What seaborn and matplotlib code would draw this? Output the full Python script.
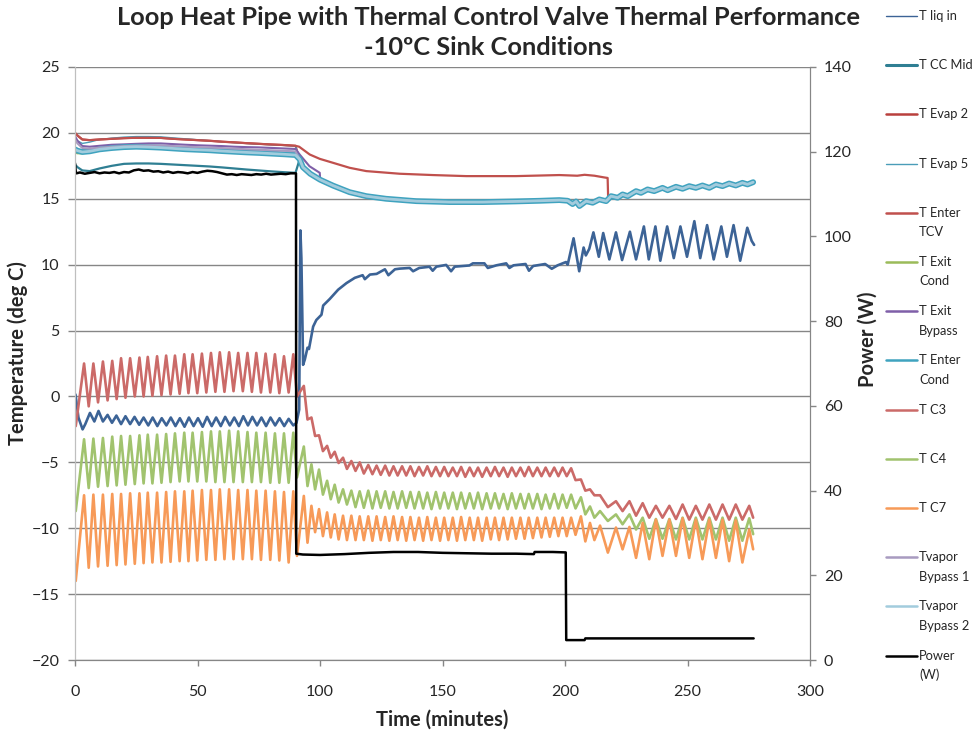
import numpy as np
import seaborn as sns
import matplotlib.pyplot as plt
from matplotlib.lines import Line2D

# condenser thermocouples C3 / C4 / C7: turning points of the oscillation (minutes)
c_time = [0.3, 3.7, 5.6, 7.5, 9.4, 11.4, 13.3, 15.2,
          17.0, 18.8, 20.6, 22.5, 24.4, 26.3, 28.0, 29.7,
          31.6, 33.5, 35.3, 37.2, 39.0, 40.8, 42.7, 44.6,
          46.3, 48.0, 49.9, 51.8, 53.6, 55.5, 57.3, 59.1,
          61.0, 62.9, 64.7, 66.6, 68.5, 70.4, 72.2, 74.0,
          75.9, 77.8, 79.7, 81.6, 83.4, 85.3, 87.2, 89.1,
          90.6, 93.4, 94.9, 96.5, 98.0, 99.6, 101.2, 102.9,
          104.4, 106.0, 107.6, 109.4, 111.0, 112.8, 114.5, 116.2,
          117.9, 119.7, 121.4, 123.1, 124.8, 126.6, 128.3, 130.0, 131.7, 133.5,
          135.2, 136.9, 138.6, 140.4, 142.1, 143.8, 145.5, 147.3, 149.0, 150.7,
          152.4, 154.2, 155.9, 157.6, 159.3, 161.1, 162.8, 164.5, 166.2, 168.0,
          169.7, 171.4, 173.1, 174.9, 176.6, 178.3, 180.0, 181.8, 183.5, 185.2,
          186.9, 188.7, 190.4, 192.1, 193.8, 195.6, 197.3, 199.0, 200.7, 202.5,
          204.3, 206.5, 208.3, 210.2, 212.0, 214.3, 217.5, 220.8, 223.5, 226.3,
          229.0, 231.7, 234.4, 237.1, 239.8, 242.6, 245.3, 248.0, 250.7, 253.4,
          256.1, 258.9, 261.6, 264.3, 267.0, 269.7, 272.4, 275.2, 276.8]

t_c3 = [-2.25, 2.5, -0.75, 2.5, -0.45, 2.65, -0.3, 2.7,
        -0.2, 2.9, -0.1, 2.9, 0.0, 2.95, 0.0, 3.0,
        0.05, 3.05, 0.1, 3.1, 0.15, 3.1, 0.2, 3.2,
        0.25, 3.2, 0.25, 3.25, 0.3, 3.3, 0.35, 3.35,
        0.35, 3.35, 0.4, 3.3, 0.4, 3.3, 0.35, 3.3,
        0.3, 3.25, 0.3, 3.2, 0.25, 3.05, 0.3, 3.2,
        0.0, 0.8, -1.75, -1.6, -3.0, -2.95, -4.15, -3.75,
        -4.65, -4.2, -5.05, -4.65, -5.5, -4.9, -5.65, -5.0,
        -5.85, -5.2, -5.9, -5.25, -5.95, -5.25, -6.0, -5.3, -6.0, -5.3,
        -6.0, -5.3, -6.05, -5.35, -6.0, -5.3, -6.05, -5.35, -6.05, -5.35,
        -6.05, -5.4, -6.05, -5.35, -6.1, -5.4, -6.05, -5.4, -6.1, -5.4,
        -6.05, -5.35, -6.05, -5.4, -6.1, -5.4, -6.05, -5.4, -6.05, -5.35,
        -6.05, -5.4, -6.05, -5.4, -6.05, -5.4, -6.05, -5.4, -6.05, -5.45,
        -6.35, -6.3, -7.15, -7.05, -7.5, -7.5, -8.4, -7.95, -8.7, -7.95,
        -9.05, -8.1, -9.2, -8.3, -9.2, -8.3, -9.3, -8.2, -9.35, -8.3,
        -9.35, -8.2, -9.35, -8.2, -9.35, -8.2, -9.35, -8.3, -9.2]

t_c4 = [-8.7, -3.25, -6.95, -3.2, -6.85, -3.15, -6.8, -3.05,
        -6.75, -3.0, -6.7, -3.0, -6.65, -2.95, -6.6, -2.9,
        -6.6, -2.9, -6.55, -2.85, -6.5, -2.8, -6.45, -2.75,
        -6.45, -2.75, -6.45, -2.7, -6.45, -2.65, -6.5, -2.65,
        -6.5, -2.6, -6.5, -2.65, -6.5, -2.7, -6.5, -2.75,
        -6.5, -2.75, -6.55, -2.8, -6.55, -2.8, -6.55, -2.75,
        -6.15, -3.8, -6.8, -5.15, -7.05, -5.55, -7.45, -6.4,
        -7.8, -6.7, -8.05, -7.05, -8.2, -7.15, -8.4, -7.2,
        -8.45, -7.15, -8.5, -7.2, -8.45, -7.2, -8.5, -7.25, -8.5, -7.2,
        -8.45, -7.25, -8.5, -7.25, -8.5, -7.3, -8.55, -7.25, -8.5, -7.3,
        -8.5, -7.3, -8.55, -7.3, -8.5, -7.35, -8.5, -7.3, -8.55, -7.35,
        -8.5, -7.35, -8.5, -7.4, -8.55, -7.35, -8.5, -7.4, -8.5, -7.4,
        -8.5, -7.4, -8.55, -7.45, -8.5, -7.4, -8.5, -7.45, -8.45, -7.45,
        -8.5, -7.65, -8.95, -8.35, -9.2, -8.7, -9.45, -8.95, -9.7, -8.95,
        -10.1, -9.2, -10.8, -9.3, -10.8, -9.3, -10.85, -9.2, -10.85, -9.2,
        -10.85, -9.2, -10.85, -9.2, -10.95, -9.2, -10.95, -9.25, -10.45]

t_c7 = [-14.0, -7.5, -13.0, -7.45, -12.9, -7.45, -12.85, -7.4,
        -12.8, -7.4, -12.75, -7.35, -12.7, -7.35, -12.65, -7.3,
        -12.6, -7.3, -12.6, -7.25, -12.55, -7.2, -12.5, -7.2,
        -12.5, -7.15, -12.45, -7.1, -12.4, -7.1, -12.4, -7.05,
        -12.35, -7.05, -12.35, -7.1, -12.35, -7.1, -12.35, -7.15,
        -12.4, -7.15, -12.4, -7.2, -12.45, -7.25, -12.6, -7.2,
        -12.1, -7.55, -11.1, -8.3, -10.3, -8.55, -10.6, -8.8,
        -10.7, -8.95, -10.85, -9.05, -10.9, -9.05, -10.9, -9.1,
        -10.9, -9.1, -10.95, -9.1, -10.9, -9.15, -10.95, -9.1, -10.9, -9.15,
        -10.95, -9.15, -10.9, -9.2, -10.95, -9.15, -10.9, -9.2, -10.95, -9.2,
        -10.9, -9.2, -10.95, -9.15, -10.9, -9.2, -10.9, -9.2, -10.95, -9.2,
        -10.85, -9.2, -10.9, -9.2, -10.85, -9.2, -10.8, -9.2, -10.8, -9.2,
        -10.75, -9.2, -10.7, -9.2, -10.65, -9.2, -10.6, -9.2, -10.6, -9.2,
        -10.5, -9.1, -11.0, -9.6, -10.9, -9.8, -11.85, -9.95, -11.6, -9.9,
        -12.25, -9.6, -12.35, -9.35, -12.1, -9.35, -12.1, -9.25, -12.25, -9.35,
        -12.35, -9.35, -12.25, -9.35, -12.5, -9.4, -12.6, -10.1, -11.6]

# liquid inlet
liq_time = [0.2, 1.4, 3.1, 4.2,
            6.1, 7.9, 9.6, 11.4, 13.3, 15.1, 16.9, 18.8, 20.6, 22.5,
            24.3, 26.2, 28.0, 29.9, 31.7, 33.6, 35.4, 37.3, 39.1, 41.0,
            42.8, 44.7, 46.5, 48.4, 50.2, 52.1, 53.9, 55.8, 57.6, 59.5,
            61.3, 63.2, 65.0, 66.9, 68.7, 70.6, 72.4, 74.3, 76.1, 78.0,
            79.8, 81.7, 83.5, 85.4, 87.2, 89.1, 90.4,
            91.5, 92.0, 92.4, 93.1, 93.8, 94.9, 95.5, 97.2, 98.5, 100.6,
            101.3, 104.0, 107.4, 110.8, 114.2, 117.4, 118.3, 120.4, 123.1, 126.5,
            127.9, 130.6, 132.6, 136.6, 138.0, 140.5, 144.7, 146.0, 147.5, 151.5,
            153.5, 155.0, 161.0, 162.4, 167.1, 168.5, 172.0, 176.0, 177.3, 179.0,
            183.9, 185.3, 187.0, 191.9, 194.6, 197.0, 200.4, 201.1, 203.5, 205.8,
            207.6, 208.5, 209.9, 211.6, 213.8, 215.6, 218.1, 220.8, 223.3, 226.5,
            229.0, 232.2, 234.2, 236.9, 238.9, 241.7, 244.4, 247.1, 249.8, 252.8,
            255.2, 258.0, 260.7, 263.8, 266.1, 268.8, 271.5, 274.4, 276.2, 277.2]
t_liq_in = [0.15, -1.6, -2.5, -2.1,
            -1.25, -1.9, -1.1, -1.9, -1.4, -2.0, -1.45, -2.1, -1.5, -2.1,
            -1.55, -2.15, -1.6, -2.2, -1.6, -2.25, -1.65, -2.2, -1.6, -2.25,
            -1.65, -2.3, -1.6, -2.25, -1.65, -2.3, -1.55, -2.25, -1.6, -2.25,
            -1.55, -2.2, -1.6, -2.25, -1.5, -2.2, -1.55, -2.2, -1.6, -2.25,
            -1.6, -2.2, -1.65, -2.25, -1.7, -2.2, -2.0,
            -1.0, 12.6, 10.5, 2.4, 2.8, 3.7, 3.6, 5.3, 5.8, 6.2,
            6.9, 7.4, 8.1, 8.6, 9.0, 9.2, 8.9, 9.25, 9.3, 9.65,
            9.2, 9.65, 9.7, 9.75, 9.5, 9.75, 9.84, 9.54, 9.85, 9.98,
            9.5, 9.85, 9.94, 10.1, 10.1, 9.75, 9.95, 10.1, 9.75, 9.95,
            10.05, 9.54, 9.9, 10.05, 9.69, 9.95, 10.2, 10.0, 12.0, 9.5,
            11.3, 10.7, 11.2, 12.45, 10.6, 12.4, 10.4, 12.45, 10.35, 12.5,
            10.4, 12.9, 10.4, 12.9, 10.3, 12.9, 10.5, 12.9, 10.6, 13.3,
            10.5, 13.0, 10.4, 12.9, 10.6, 13.0, 10.3, 12.8, 11.8, 11.5]

# evaporator / vapour side, before the power step
up_time = [0, 1, 3, 6, 10, 15, 20, 25, 30, 35, 40, 45, 50, 55, 60, 65, 70, 75, 80, 85, 90]
tcv_pre = [20.0, 19.8, 19.5, 19.45, 19.5, 19.55, 19.6, 19.63, 19.63, 19.62, 19.55,
           19.5, 19.45, 19.4, 19.33, 19.28, 19.22, 19.17, 19.12, 19.08, 19.02]
evap5_pre = [19.6, 19.4, 19.2, 19.3, 19.5, 19.6, 19.68, 19.72, 19.72, 19.7, 19.62,
             19.55, 19.48, 19.4, 19.33, 19.26, 19.2, 19.15, 19.1, 19.05, 19.0]
ccmid_pre = [17.6, 17.4, 17.15, 17.1, 17.3, 17.5, 17.65, 17.68, 17.68, 17.65, 17.6,
             17.55, 17.5, 17.45, 17.38, 17.3, 17.22, 17.15, 17.08, 17.02, 16.97]
bypass_pre = [19.75, 19.4, 19.0, 18.95, 19.02, 19.1, 19.13, 19.17, 19.2, 19.2, 19.15,
              19.1, 19.06, 19.03, 19.0, 18.95, 18.92, 18.9, 18.86, 18.82, 18.78]
vap1_pre = [19.5, 19.2, 18.85, 18.8, 18.88, 18.95, 19.0, 19.03, 19.05, 19.05, 19.0,
            18.96, 18.92, 18.88, 18.85, 18.8, 18.76, 18.72, 18.68, 18.64, 18.6]
entcond_pre = [18.75, 18.65, 18.55, 18.6, 18.75, 18.85, 18.92, 18.95, 18.92, 18.88, 18.82,
               18.76, 18.72, 18.68, 18.62, 18.57, 18.52, 18.48, 18.43, 18.38, 18.32]
exitcond_pre = [18.5, 18.45, 18.45, 18.55, 18.7, 18.8, 18.87, 18.9, 18.88, 18.84, 18.78,
                18.72, 18.68, 18.64, 18.58, 18.53, 18.48, 18.44, 18.39, 18.34, 18.28]

# common band after the power step
grp_time = [91.7, 93.0, 96.0, 100.0, 105.3, 112.1, 118.9, 127.0, 139.3, 152.9,
            166.5, 180.0, 190.0, 197.7, 201.1, 203.1, 204.5, 205.9, 208.6, 211.3,
            214.0, 216.8, 218.8, 221.5, 223.5, 225.6, 229.0, 231.0, 233.7, 236.4,
            239.8, 241.9, 245.3, 248.0, 250.7, 253.4, 256.1, 258.9, 261.6, 264.3,
            267.0, 269.7, 272.4, 274.5, 276.8]
grp_val = [18.0, 17.4, 16.9, 16.45, 16.0, 15.5, 15.2, 15.0, 14.82, 14.75,
           14.75, 14.8, 14.85, 14.9, 14.85, 14.6, 14.8, 14.45, 14.82, 14.7,
           14.95, 14.82, 15.2, 15.08, 15.33, 15.2, 15.58, 15.45, 15.71, 15.58,
           15.83, 15.65, 15.91, 15.76, 15.96, 15.83, 16.01, 15.83, 16.09, 15.96,
           16.16, 16.01, 16.21, 16.09, 16.26]

tcv_tail_time = [91.5, 95.8, 99.9, 105.3, 112.1, 118.9, 132.5, 146.1, 159.7, 180.0,
                 197.7, 205.0, 208.0, 212.0, 216.0, 217.4, 217.6]
tcv_tail = [18.95, 18.36, 18.03, 17.73, 17.35, 17.1, 16.9, 16.8, 16.72, 16.72,
            16.8, 16.75, 16.82, 16.75, 16.62, 16.58, 15.15]
bypass_tail_time = [91.7, 95.7, 99.9, 100.1]
bypass_tail = [18.36, 17.47, 16.97, 16.4]

power_time = [0, 0.3, 0.6, 2, 4, 6, 8, 10, 12, 14, 16, 18, 20, 22, 24, 26, 28, 30,
              32, 34, 36, 38, 40, 42, 44, 46, 48, 50, 52, 54, 56, 58, 60, 62, 64, 66,
              68, 70, 72, 74, 76, 78, 80, 82, 84, 86, 88, 90.2,
              90.3, 93, 100, 110, 120, 130, 140, 150, 160, 170, 180, 187.3, 187.6, 195,
              200.3, 200.5, 208, 208.3, 240, 277]
power = [117.3, 115.3, 114.9, 115.1, 114.8, 115.0, 115.2, 114.9, 115.1, 115.0, 115.2, 114.9,
         115.2, 115.1, 115.6, 115.8, 115.5, 115.6, 115.3, 115.4, 115.1, 115.3, 115.0, 115.2,
         115.1, 114.9, 115.2, 115.0, 115.3, 115.5, 115.4, 115.2, 114.9, 114.6, 114.7, 114.5,
         114.7, 114.6, 114.5, 114.7, 114.6, 114.8, 114.6, 114.7, 114.8, 114.7, 114.9, 114.9,
         25.1, 24.9, 24.8, 25.0, 25.3, 25.5, 25.5, 25.3, 25.2, 25.1, 25.1, 25.0, 25.5, 25.5,
         25.4, 4.7, 4.7, 5.1, 5.1, 5.1]


def join(t1, v1, t2, v2, after):
    t2, v2 = np.asarray(t2), np.asarray(v2)
    keep = t2 > after
    return np.r_[t1, t2[keep]], np.r_[v1, v2[keep]]


sns.set_style("white")
plt.rcParams['font.family'] = ['Lato', 'DejaVu Sans']
grid_c = '#868686'

fig = plt.figure(figsize=(9.77, 7.40), dpi=100)
ax = fig.add_axes([75 / 977, 1 - 660 / 740, 735 / 977, 593 / 740])
ax2 = ax.twinx()

grp = (grp_time, grp_val)
series = [
    ("T liq in", "#3C6396", 1.9, 1.0, (liq_time, t_liq_in)),
    ("T CC Mid", "#2F7F93", 1.6, 2.2, join(up_time, ccmid_pre, *grp, 91)),
    ("T Evap 2", "#B9403D", 1.5, 1.8, join(up_time, tcv_pre, *grp, 91)),
    ("T Evap 5", "#4A9DB8", 1.0, 1.0, join(up_time, evap5_pre, *grp, 91)),
    ("T Enter TCV", "#C0504D", 1.6, 1.8,
     join(*join(up_time, tcv_pre, tcv_tail_time, tcv_tail, 91), *grp, 218)),
    ("T Exit Cond", "#9BBB59", 1.5, 1.8, join(up_time, exitcond_pre, *grp, 91)),
    ("T Exit Bypass", "#7F5FA8", 1.5, 1.8,
     join(*join(up_time, bypass_pre, bypass_tail_time, bypass_tail, 91), *grp, 101)),
    ("T Enter Cond", "#3FA3BF", 4.2, 1.8, join(up_time, entcond_pre, *grp, 91)),
    ("T C3", "#CB6A68", 1.9, 1.8, (c_time, t_c3)),
    ("T C4", "#A1C36E", 1.9, 1.8, (c_time, t_c4)),
    ("T C7", "#F79A58", 1.9, 1.8, (c_time, t_c7)),
    ("Tvapor Bypass 1", "#A89BC0", 1.5, 1.8, join(up_time, vap1_pre, *grp, 91)),
    ("Tvapor Bypass 2", "#A2CCDD", 2.0, 1.8, join(up_time, entcond_pre, *grp, 91)),
]
for name, col, lw, _, (x, y) in series:
    sns.lineplot(x=x, y=y, ax=ax, color=col, lw=lw, estimator=None, sort=False)
sns.lineplot(x=power_time, y=power, ax=ax2, color='black', lw=1.8, estimator=None, sort=False)

ax.set_xlim(0, 300)
ax.set_ylim(-20, 25)
ax.set_xticks(range(0, 301, 50))
ax.set_yticks(range(-20, 26, 5))
ax2.set_ylim(0, 140)
ax2.set_yticks(range(0, 141, 20))
ax.grid(axis='y', color=grid_c, lw=1.0)
ax.grid(axis='x', visible=False)
ax2.grid(False)
ax.set_xlabel('')
ax.set_ylabel('')
ax2.set_ylabel('')

for a in (ax, ax2):
    a.spines['top'].set_visible(False)
    a.spines['left'].set_color('#BFBFBF')
    a.spines['bottom'].set_color(grid_c)
    a.spines['right'].set_color(grid_c)
ax.tick_params(axis='y', direction='out', length=5, width=1, color=grid_c, pad=6, labelsize=11.5, left=True)
ax.tick_params(axis='x', direction='out', length=4, width=1, color=grid_c, pad=14, labelsize=11.5, bottom=True)
ax2.tick_params(axis='y', direction='out', length=4, width=1, color=grid_c, pad=6, labelsize=11.5, right=True)

fig.text(0.5, 1 - 32.5 / 740, 'Loop Heat Pipe with Thermal Control Valve Thermal Performance\n-10ºC Sink Conditions',
         ha='center', va='center', fontsize=18.3, fontweight='bold', linespacing=1.38)
fig.text(442 / 977, 1 - 720 / 740, 'Time (minutes)', ha='center', va='center', fontsize=14.5, fontweight='bold')
fig.text(18 / 977, 1 - 353 / 740, 'Temperature (deg C)', ha='center', va='center', rotation=90,
         fontsize=14.5, fontweight='bold')
fig.text(868 / 977, 1 - 339 / 740, 'Power (W)', ha='center', va='center', rotation=90,
         fontsize=14.5, fontweight='bold')

# legend column on the right
legend_rows = [["T liq in"], ["T CC Mid"], ["T Evap 2"], ["T Evap 5"], ["T Enter", "TCV"],
               ["T Exit", "Cond"], ["T Exit", "Bypass"], ["T Enter", "Cond"], ["T C3"], ["T C4"],
               ["T C7"], ["Tvapor", "Bypass 1"], ["Tvapor", "Bypass 2"], ["Power", "(W)"]]
legend_style = [(s[1], s[3]) for s in series] + [('black', 1.8)]
for i, (rows, (col, lw)) in enumerate(zip(legend_rows, legend_style)):
    yp = 16 + 49.2 * i
    fig.add_artist(Line2D([886 / 977, 917 / 977], [1 - yp / 740] * 2, color=col, lw=lw))
    for j, txt in enumerate(rows):
        fig.text(919 / 977, 1 - (yp + 19.5 * j) / 740, txt, ha='left', va='center', fontsize=9.3)

fig.savefig('out.png', dpi=100)
